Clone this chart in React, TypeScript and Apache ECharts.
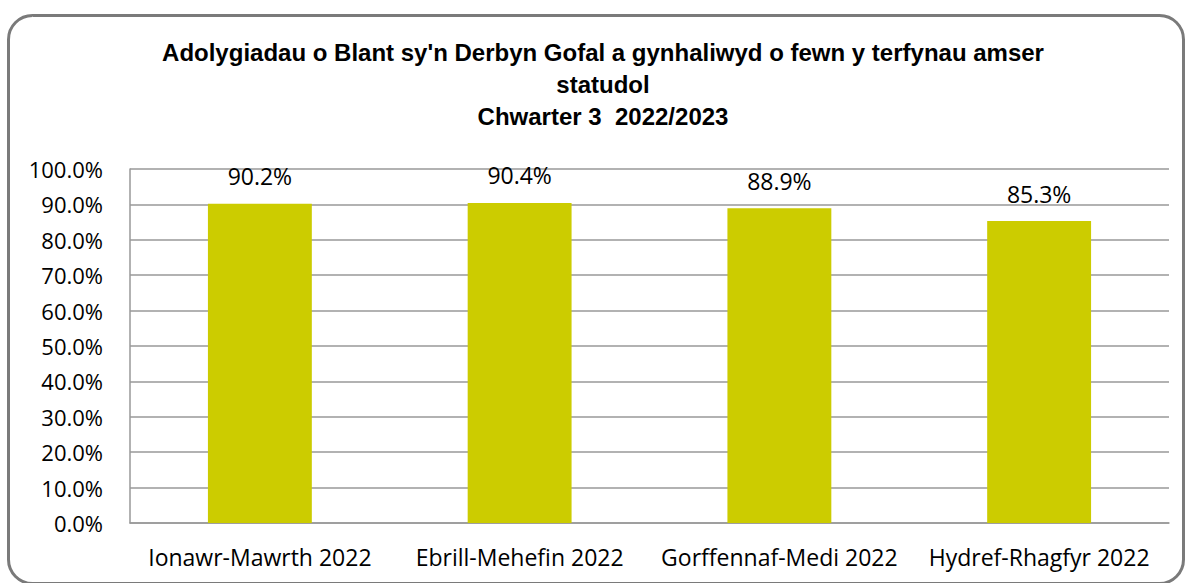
import React, { useEffect, useRef } from "react";
import * as echarts from "echarts";

const titleLines = [
  "Adolygiadau o Blant sy'n Derbyn Gofal a gynhaliwyd o fewn y terfynau amser",
  "statudol",
  "Chwarter 3  2022/2023",
];
const categories = [
  "Ionawr-Mawrth 2022",
  "Ebrill-Mehefin 2022",
  "Gorffennaf-Medi 2022",
  "Hydref-Rhagfyr 2022",
];
const values = [90.2, 90.4, 88.9, 85.3];
const yMin = 0;
const yMax = 100;
const yInterval = 10;

export default function App() {
  const ref = useRef<HTMLDivElement>(null);
  useEffect(() => {
    if (!ref.current) return;
    const chart = echarts.init(ref.current, null, { renderer: "svg" });
    chart.setOption({
      animation: false,
      backgroundColor: "#ffffff",
      graphic: [
        {
          type: "rect",
          shape: { x: 8.5, y: 15.5, width: 1175, height: 568, r: 24 },
          style: { fill: "none", stroke: "#7a7a7a", lineWidth: 3 },
          silent: true,
        },
        {
          type: "text",
          x: 603,
          y: 36,
          style: {
            text: titleLines.join("\n"),
            fontSize: 24,
            fontWeight: "bold",
            fontFamily: "Liberation Sans",
            fill: "#000000",
            align: "center",
            textAlign: "center",
            verticalAlign: "top",
            lineHeight: 32,
          },
        },
      ],
      grid: { left: 130, right: 18, top: 169, bottom: 60, containLabel: false },
      xAxis: {
        type: "category",
        data: categories,
        axisTick: { show: false },
        axisLine: { show: true, lineStyle: { color: "#999999", width: 1.5 } },
        axisLabel: {
          fontFamily: "Open Sans",
          fontSize: 23,
          color: "#000000",
          margin: 22,
          interval: 0,
        },
      },
      yAxis: {
        type: "value",
        min: yMin,
        max: yMax,
        interval: yInterval,
        axisLine: { show: true, lineStyle: { color: "#999999", width: 1.5 } },
        axisTick: { show: false },
        splitLine: { show: true, lineStyle: { color: "#999999", width: 1.5 } },
        axisLabel: {
          fontFamily: "Open Sans",
          fontSize: 22,
          color: "#000000",
          margin: 27,
          formatter: (v: number) => v.toFixed(1) + "%",
        },
      },
      series: [
        {
          type: "bar",
          data: values,
          barWidth: "40%",
          itemStyle: { color: "#cccc00" },
          label: {
            show: true,
            position: "top",
            distance: 16,
            fontFamily: "Open Sans",
            fontSize: 23,
            color: "#000000",
            formatter: (p: any) => Number(p.value).toFixed(1) + "%",
          },
        },
      ],
    });
    return () => chart.dispose();
  }, []);
  return (
    <div
      ref={ref}
      style={{ position: "fixed", left: 0, top: 0, width: 1187, height: 583 }}
    />
  );
}
